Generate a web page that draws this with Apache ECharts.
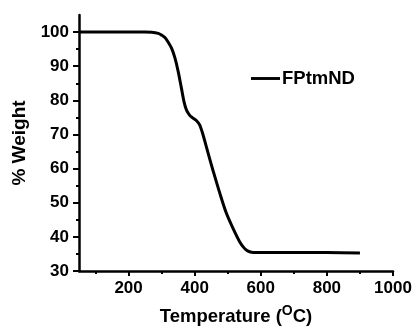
<!DOCTYPE html>
<html>
<head>
<meta charset="utf-8">
<script src="https://cdn.jsdelivr.net/npm/echarts@6/dist/echarts.min.js"></script>
<style>
html,body{margin:0;padding:0;background:#fff;}
#c{width:415px;height:327px;}
</style>
</head>
<body>
<div id="c"></div>
<script>
var temperature = [50, 100, 150, 200, 250, 270, 290, 300, 310, 320, 330, 340, 350, 360, 368, 375, 385, 395, 405, 415, 425, 435, 445, 455, 476, 496, 516, 536, 550, 560, 572, 600, 700, 800, 900];
var weight = [100, 100, 100, 100, 100, 99.95, 99.6, 99.1, 98.4, 97.0, 95.3, 92.5, 88.5, 83.5, 79.5, 77.2, 75.6, 74.8, 74.1, 72.8, 70.0, 66.5, 63.0, 59.6, 52.8, 46.9, 42.5, 38.6, 36.7, 35.9, 35.5, 35.4, 35.4, 35.4, 35.3];
var xMajor = [200, 400, 600, 800, 1000];
var xMinor = [100, 300, 500, 700, 900];
var yMajor = [30, 40, 50, 60, 70, 80, 90, 100];
var yMinor = [35, 45, 55, 65, 75, 85, 95];
var seriesName = 'FPtmND';

var FONT = '"Liberation Sans", Arial, sans-serif';
var chart = echarts.init(document.getElementById('c'));
var data = temperature.map(function (t, i) { return [t, weight[i]]; });
var labelStyle = {color: '#000', fontFamily: FONT, fontWeight: 'bold', fontSize: 17, formatter: function (v) { return String(v); }};
chart.setOption({
  animation: false,
  backgroundColor: '#fff',
  grid: {left: 79, right: 22, top: 15, bottom: 56, containLabel: false, outerBoundsMode: 'none'},
  legend: {
    left: 246, top: 64, itemWidth: 29, itemHeight: 14, itemGap: 0,
    icon: 'path://M0,0 L30,0 L30,3 L0,3 Z',
    textStyle: {color: '#000', fontFamily: FONT, fontWeight: 'bold', fontSize: 18.5, padding: [0, 0, 0, -3]},
    data: [{name: seriesName, itemStyle: {color: '#000'}}]
  },
  xAxis: [{
    type: 'value', min: 50, max: 1000, interval: 50,
    name: 'Temperature ({sup|O}C)', nameLocation: 'middle', nameGap: 33,
    nameTextStyle: {color: '#000', fontFamily: FONT, fontWeight: 'bold', fontSize: 18.5,
      rich: {sup: {fontFamily: FONT, fontWeight: 'bold', fontSize: 14, color: '#000', padding: [0, 0, 11, 0]}}},
    axisLine: {show: true, onZero: false, lineStyle: {color: '#000', width: 2.5}},
    axisTick: {show: true, customValues: xMajor, length: 5, lineStyle: {color: '#000', width: 2}},
    axisLabel: Object.assign({customValues: xMajor, margin: 9}, labelStyle),
    splitLine: {show: false}
  }, {
    type: 'value', min: 50, max: 1000, interval: 50, position: 'bottom',
    axisLine: {show: false},
    axisTick: {show: true, customValues: xMinor, length: 3, lineStyle: {color: '#000', width: 2}},
    axisLabel: {show: false}, splitLine: {show: false}
  }],
  yAxis: [{
    type: 'value', min: 30, max: 105, interval: 5,
    name: '% Weight', nameLocation: 'middle', nameGap: 50,
    nameTextStyle: {color: '#000', fontFamily: FONT, fontWeight: 'bold', fontSize: 19},
    axisLine: {show: true, onZero: false, lineStyle: {color: '#000', width: 2.5}},
    axisTick: {show: true, customValues: yMajor, length: 6, lineStyle: {color: '#000', width: 2}},
    axisLabel: Object.assign({customValues: yMajor, margin: 10}, labelStyle),
    splitLine: {show: false}
  }, {
    type: 'value', min: 30, max: 105, interval: 5, position: 'left',
    axisLine: {show: false},
    axisTick: {show: true, customValues: yMinor, length: 3, lineStyle: {color: '#000', width: 2}},
    axisLabel: {show: false}, splitLine: {show: false}
  }],
  series: [{
    name: seriesName, type: 'line', data: data, symbol: 'none',
    smooth: 0.3,
    lineStyle: {color: '#000', width: 3}, itemStyle: {color: '#000'}
  }]
});
</script>
</body>
</html>
